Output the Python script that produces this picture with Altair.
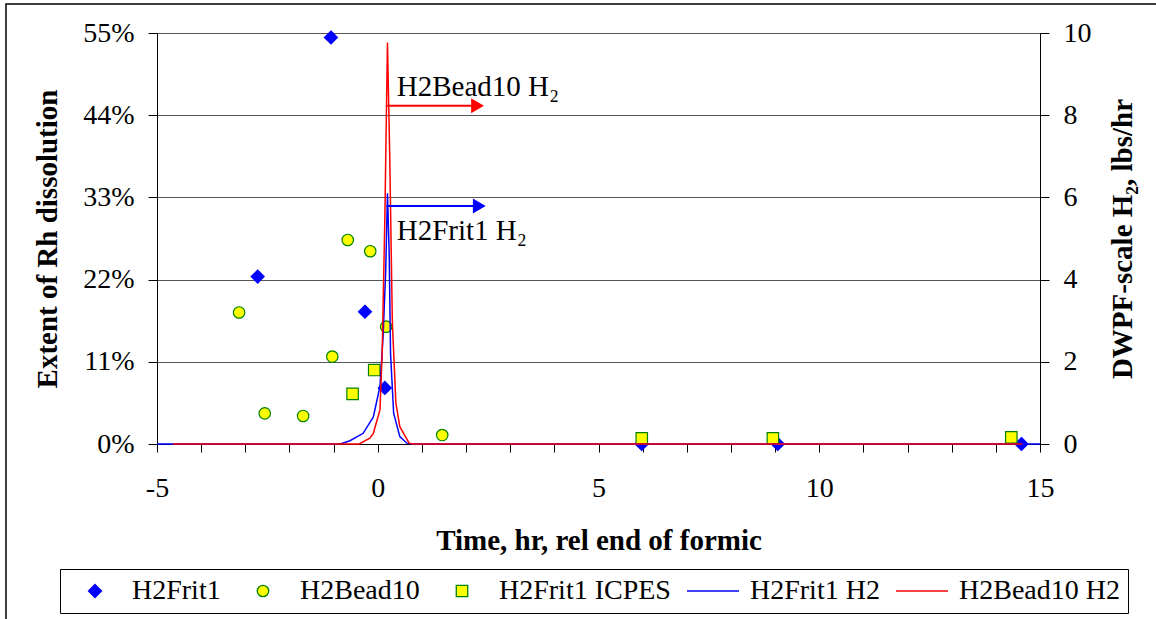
import altair as alt
import pandas as pd

FONT = "Liberation Serif"

# Series names in legend order
series = ["H2Frit1", "H2Bead10", "H2Frit1 ICPES", "H2Frit1 H2", "H2Bead10 H2"]

# Extent of Rh dissolution vs time relative to end of formic addition (hr)
frit1_t = [-1.06, -2.72, -0.29, 0.16, 5.98, 9.06, 14.58]
frit1_y = [0.544, 0.224, 0.177, 0.075, 0.0, 0.0, 0.0]

bead10_t = [-3.14, -2.56, -1.69, -1.03, -0.68, -0.17, 0.19, 1.46]
bead10_y = [0.176, 0.041, 0.0375, 0.117, 0.273, 0.258, 0.157, 0.012]

icpes_t = [-0.57, -0.08, 5.98, 8.95, 14.35]
icpes_y = [0.067, 0.099, 0.0076, 0.0076, 0.009]

# DWPF-scale hydrogen generation rate (lbs/hr)
frit1_h2_t = [-5.0, -0.85, -0.63, -0.33, -0.10, 0.05, 0.12, 0.18, 0.22, 0.26, 0.29, 0.36, 0.50, 0.66, 0.75, 15.0]
frit1_h2_v = [0.0, 0.0, 0.08, 0.26, 0.66, 1.4, 2.6, 4.2, 6.1, 4.6, 2.2, 0.75, 0.18, 0.02, 0.0, 0.0]

bead10_h2_t = [-4.64, -0.42, -0.18, -0.10, 0.05, 0.10, 0.16, 0.22, 0.27, 0.33, 0.41, 0.50, 0.71, 0.80, 14.6]
bead10_h2_v = [0.0, 0.0, 0.14, 0.26, 0.83, 2.2, 5.45, 9.77, 7.1, 3.0, 1.0, 0.42, 0.02, 0.0, 0.0]

# Peak call-outs: arrow start/end (hr), arrow level and label baseline (lbs/hr)
note_text = ["H2Bead10 H\u2082", "H2Frit1 H\u2082"]
note_color = ["#FF0000", "#0000FF"]
note_x0 = [0.20, 0.20]
note_x1 = [2.26, 2.30]
note_arrow_v = [8.23, 5.79]
note_text_x = [0.43, 0.43]
note_text_v = [8.47, 4.96]

pts = pd.DataFrame({
    "t": frit1_t + bead10_t + icpes_t,
    "y": frit1_y + bead10_y + icpes_y,
    "series": ["H2Frit1"] * len(frit1_t) + ["H2Bead10"] * len(bead10_t)
    + ["H2Frit1 ICPES"] * len(icpes_t),
})

lines = pd.DataFrame({
    "t": frit1_h2_t + bead10_h2_t,
    "v": frit1_h2_v + bead10_h2_v,
    "series": ["H2Frit1 H2"] * len(frit1_h2_t) + ["H2Bead10 H2"] * len(bead10_h2_t),
})

notes = pd.DataFrame({
    "text": note_text, "color": note_color,
    "t0": note_x0, "t1": note_x1, "va": note_arrow_v,
    "tx": note_text_x, "vt": note_text_v,
})

# Symbol paths in a -1..1 unit box. Every path starts with moves to x = -1 and
# x = 1 so that all legend entries share the same symbol slot width; the drawn
# glyph itself sits in the middle.
SLOT = "M-1,0M1,0"
DIAMOND = SLOT + "M0,-0.25L0.25,0L0,0.25L-0.25,0Z"
CIRCLE = SLOT + "M-0.22,0A0.22,0.22,0,1,0,0.22,0A0.22,0.22,0,1,0,-0.22,0Z"
SQUARE = SLOT + "M-0.22,-0.22L0.22,-0.22L0.22,0.22L-0.22,0.22Z"
LINE_SYM = "M-1,0L1,0"
SYM_SIZE = 2704

fill_scale = alt.Scale(domain=series, range=["#0000FF", "#FFFF00", "#FFFF00", "transparent", "transparent"])
stroke_scale = alt.Scale(domain=series, range=["#0000FF", "#008000", "#008000", "#0000FF", "#FF0000"])
shape_scale = alt.Scale(domain=series, range=[DIAMOND, CIRCLE, SQUARE, LINE_SYM, LINE_SYM])

legend = alt.Legend(
    title=None, orient="none", legendX=-97, legendY=536,
    direction="horizontal", columns=5,
)

x_axis = alt.Axis(
    values=list(range(-5, 16)),
    labelExpr="datum.value % 5 === 0 ? '' + datum.value : ''",
    grid=False, labelFlush=False, labelOverlap=False,
    tickSize=8, labelPadding=22,
    title="Time, hr, rel end of formic", titlePadding=24,
)
x_enc = alt.X("t:Q", scale=alt.Scale(domain=[-5, 15], nice=False), axis=x_axis)

left_axis = alt.Axis(
    values=[0, 0.11, 0.22, 0.33, 0.44, 0.55], format=".0%",
    grid=True, gridColor="#555555", gridWidth=1,
    tickSize=9, labelPadding=14,
    title="Extent of Rh dissolution", titlePadding=20,
)

right_axis = alt.Axis(
    orient="right", values=[0, 2, 4, 6, 8, 10], grid=False,
    tickSize=9, labelPadding=14,
    title="DWPF-scale H\u2082, lbs/hr", titleAngle=270, titlePadding=46,
)
v_scale = alt.Scale(domain=[0, 10], nice=False)
t_scale = alt.Scale(domain=[-5, 15], nice=False)
v_enc = alt.Y("v:Q", scale=v_scale, axis=right_axis)

points = alt.Chart(pts).mark_point(filled=True, opacity=1, strokeWidth=1.2, size=SYM_SIZE).encode(
    x=x_enc,
    y=alt.Y("y:Q", scale=alt.Scale(domain=[0, 0.55], nice=False), axis=left_axis),
    fill=alt.Fill("series:N", scale=fill_scale, legend=legend),
    stroke=alt.Stroke("series:N", scale=stroke_scale, legend=legend),
    shape=alt.Shape("series:N", scale=shape_scale, legend=legend),
)

h2_lines = alt.Chart(lines).mark_line(strokeWidth=1.5).encode(
    x=x_enc,
    y=v_enc,
    stroke=alt.Stroke("series:N", scale=stroke_scale, legend=legend),
)

arrows = alt.Chart(notes).mark_rule(strokeWidth=2).encode(
    x=alt.X("t0:Q", scale=t_scale, axis=x_axis), x2="t1:Q",
    y=alt.Y("va:Q", scale=v_scale, axis=right_axis),
    color=alt.Color("color:N", scale=None),
)

heads = alt.Chart(notes).mark_point(shape="triangle-right", filled=True, size=220, opacity=1).encode(
    x=alt.X("t1:Q", scale=t_scale, axis=x_axis),
    y=alt.Y("va:Q", scale=v_scale, axis=right_axis),
    color=alt.Color("color:N", scale=None),
)

labels = alt.Chart(notes).mark_text(
    align="left", baseline="alphabetic", font=FONT, fontSize=29, color="black"
).encode(
    x=alt.X("tx:Q", scale=t_scale, axis=x_axis),
    y=alt.Y("vt:Q", scale=v_scale, axis=right_axis),
    text="text:N",
)

h2_layer = alt.layer(h2_lines, arrows, heads, labels)

frame = alt.Chart(pd.DataFrame({"k": [0]})).mark_rect(
    fillOpacity=0, stroke="black", strokeWidth=1.5
).encode(x=alt.value(-151), x2=alt.value(1003), y=alt.value(-29), y2=alt.value(592))

chart = alt.layer(points, h2_layer, frame).resolve_scale(y="independent").properties(
    width=883, height=411,
    autosize=alt.AutoSizeParams(type="none"),
    padding={"left": 157, "top": 33, "right": 116, "bottom": 175},
    background="white",
).configure_view(strokeWidth=0).configure_axis(
    labelFont=FONT, labelFontSize=28, labelColor="black",
    titleFont=FONT, titleFontSize=29, titleFontWeight="bold", titleColor="black",
    domainColor="black", tickColor="black", domainWidth=1, tickWidth=1,
).configure_legend(
    labelFont=FONT, labelFontSize=28, labelColor="black", labelLimit=400,
    labelOffset=10, columnPadding=15, padding=8, symbolSize=SYM_SIZE,
    clipHeight=28,
    symbolStrokeWidth=1.3, strokeColor="black", fillColor="white",
    symbolOpacity=1,
)

chart.save("out.html", embed_options={"renderer": "svg", "actions": False})
